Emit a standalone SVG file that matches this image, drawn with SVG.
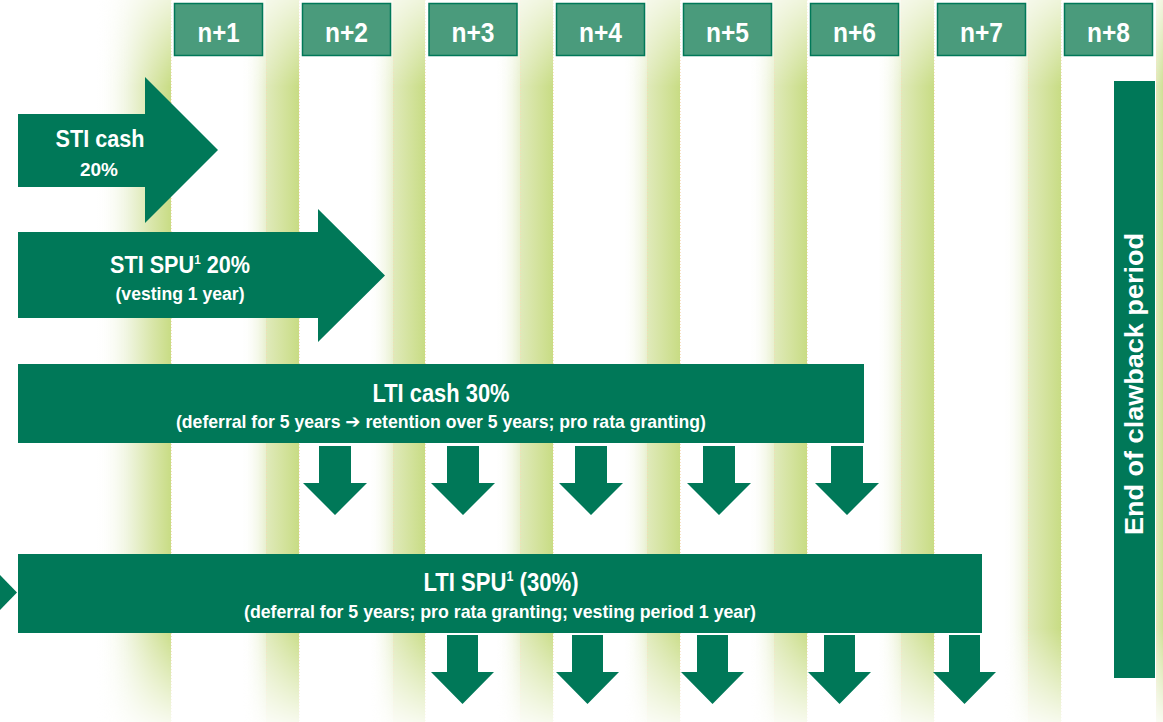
<svg xmlns="http://www.w3.org/2000/svg" width="1163" height="722" viewBox="0 0 1163 722">
  <defs>
    <style>
      .g { fill: #007858; }
      .hdr { fill: #4a9b7c; stroke: #007858; stroke-width: 1.5; }
      .t { font-family: "Liberation Sans", Arial, sans-serif; font-weight: bold; fill: #ffffff; text-anchor: middle; }
      .h { font-size: 27px; }
      .band { fill: url(#bandGrad); }
      .fade { fill: url(#fadeGrad); }
      .edge { stroke: #f6d8b4; stroke-width: 1; stroke-dasharray: 1 2; fill: none; opacity: 0.8; }
    </style>
    <linearGradient id="bandGrad" x1="0" y1="0" x2="1" y2="0">
      <stop offset="0" stop-color="#e0eabb"/>
      <stop offset="0.5" stop-color="#d4e39f"/>
      <stop offset="1" stop-color="#c8dc84"/>
    </linearGradient>
    <linearGradient id="fadeGrad" x1="0" y1="0" x2="1" y2="0">
      <stop offset="0" stop-color="#ffffff" stop-opacity="0"/>
      <stop offset="1" stop-color="#e8f0cf"/>
    </linearGradient>
    <linearGradient id="firstGrad" x1="0" y1="0" x2="1" y2="0">
      <stop offset="0" stop-color="#ffffff" stop-opacity="0"/>
      <stop offset="0.45" stop-color="#eef4dc"/>
      <stop offset="0.75" stop-color="#d9e6aa"/>
      <stop offset="1" stop-color="#c8dc84"/>
    </linearGradient>
    <linearGradient id="vfade" gradientUnits="userSpaceOnUse" x1="0" y1="0" x2="0" y2="722">
      <stop offset="0" stop-color="#fff" stop-opacity="0.3"/>
      <stop offset="0.12" stop-color="#fff" stop-opacity="1"/>
      <stop offset="0.87" stop-color="#fff" stop-opacity="1"/>
      <stop offset="1" stop-color="#fff" stop-opacity="0.15"/>
    </linearGradient>
    <mask id="vmask" maskUnits="userSpaceOnUse" x="0" y="0" width="1163" height="722">
      <rect x="0" y="0" width="1163" height="722" fill="url(#vfade)"/>
    </mask>
  </defs>

  <rect x="0" y="0" width="1163" height="722" fill="#ffffff"/>

  <!-- background stripes -->
  <g id="background" mask="url(#vmask)">
    <rect x="95" y="0" width="76" height="722" fill="url(#firstGrad)"/>
    <rect class="fade" x="241" y="0" width="25" height="722"/>
    <rect class="band" x="266" y="0" width="33" height="722"/>
    <rect class="fade" x="368" y="0" width="25" height="722"/>
    <rect class="band" x="393" y="0" width="32" height="722"/>
    <rect class="fade" x="495" y="0" width="25" height="722"/>
    <rect class="band" x="520" y="0" width="33" height="722"/>
    <rect class="fade" x="622" y="0" width="25" height="722"/>
    <rect class="band" x="647" y="0" width="33" height="722"/>
    <rect class="fade" x="749" y="0" width="25" height="722"/>
    <rect class="band" x="774" y="0" width="33" height="722"/>
    <rect class="fade" x="876" y="0" width="25" height="722"/>
    <rect class="band" x="901" y="0" width="33" height="722"/>
    <rect class="fade" x="1003" y="0" width="25" height="722"/>
    <rect class="band" x="1028" y="0" width="33" height="722"/>
    <rect class="band" x="1156" y="0" width="10" height="722"/>
    <path class="edge" d="M171.5 0V722M266.5 0V722M299.5 0V722M393.5 0V722M425.5 0V722M520.5 0V722M553.5 0V722M647.5 0V722M680.5 0V722M774.5 0V722M807.5 0V722M901.5 0V722M934.5 0V722M1028.5 0V722M1061.5 0V722M1156.5 0V722"/>
  </g>

  <!-- year headers -->
  <g id="year-n1"><rect class="hdr" x="174.5" y="3.5" width="88" height="52"/><text class="t h" x="218.5" y="42" textLength="42" lengthAdjust="spacingAndGlyphs">n+1</text></g>
  <g id="year-n2"><rect class="hdr" x="302.5" y="3.5" width="88" height="52"/><text class="t h" x="346.5" y="42" textLength="43" lengthAdjust="spacingAndGlyphs">n+2</text></g>
  <g id="year-n3"><rect class="hdr" x="429" y="3.5" width="88" height="52"/><text class="t h" x="473" y="42" textLength="43" lengthAdjust="spacingAndGlyphs">n+3</text></g>
  <g id="year-n4"><rect class="hdr" x="556.5" y="3.5" width="88" height="52"/><text class="t h" x="600.5" y="42" textLength="43" lengthAdjust="spacingAndGlyphs">n+4</text></g>
  <g id="year-n5"><rect class="hdr" x="683.5" y="3.5" width="88" height="52"/><text class="t h" x="727.5" y="42" textLength="43" lengthAdjust="spacingAndGlyphs">n+5</text></g>
  <g id="year-n6"><rect class="hdr" x="810.5" y="3.5" width="88" height="52"/><text class="t h" x="854.5" y="42" textLength="43" lengthAdjust="spacingAndGlyphs">n+6</text></g>
  <g id="year-n7"><rect class="hdr" x="937.5" y="3.5" width="88" height="52"/><text class="t h" x="981.5" y="42" textLength="43" lengthAdjust="spacingAndGlyphs">n+7</text></g>
  <g id="year-n8"><rect class="hdr" x="1064.5" y="3.5" width="88" height="52"/><text class="t h" x="1108.5" y="42" textLength="43" lengthAdjust="spacingAndGlyphs">n+8</text></g>

  <!-- STI cash -->
  <g id="sti-cash">
    <polygon class="g" points="18,114 145,114 145,77 218,150 145,223 145,187 18,187"/>
    <text class="t" x="100" y="147" font-size="24" textLength="89" lengthAdjust="spacingAndGlyphs">STI cash</text>
    <text class="t" x="99" y="176" font-size="19" textLength="38" lengthAdjust="spacingAndGlyphs">20%</text>
  </g>

  <!-- STI SPU -->
  <g id="sti-spu">
    <polygon class="g" points="18,232 318,232 318,209 385,275.5 318,342 318,318 18,318"/>
    <text class="t" x="180" y="273" font-size="24" textLength="140" lengthAdjust="spacingAndGlyphs">STI SPU<tspan font-size="13" baseline-shift="9">1</tspan> 20%</text>
    <text class="t" x="180" y="300" font-size="18" textLength="129" lengthAdjust="spacingAndGlyphs">(vesting 1 year)</text>
  </g>

  <!-- LTI cash -->
  <g id="lti-cash">
    <rect class="g" x="18" y="364" width="846" height="79"/>
    <text class="t" x="441" y="402" font-size="25" textLength="137" lengthAdjust="spacingAndGlyphs">LTI cash 30%</text>
    <text class="t" x="441" y="428" font-size="18.5" textLength="530" lengthAdjust="spacingAndGlyphs">(deferral for 5 years <tspan font-family="'DejaVu Sans', sans-serif" font-size="19">➔</tspan> retention over 5 years; pro rata granting)</text>
  </g>

  <!-- LTI SPU -->
  <g id="lti-spu">
    <polygon class="g" points="0,575 17,592.5 0,610"/>
    <rect class="g" x="18" y="554" width="964" height="79"/>
    <text class="t" x="501" y="591" font-size="25" textLength="155" lengthAdjust="spacingAndGlyphs">LTI SPU<tspan font-size="14" baseline-shift="10">1</tspan> (30%)</text>
    <text class="t" x="500" y="618" font-size="18.5" textLength="512" lengthAdjust="spacingAndGlyphs">(deferral for 5 years; pro rata granting; vesting period 1 year)</text>
  </g>

  <!-- End of clawback period -->
  <g id="clawback">
    <rect class="g" x="1114" y="81" width="41" height="597"/>
    <text class="t" transform="translate(1143,384) rotate(-90)" x="0" y="0" font-size="26" textLength="302" lengthAdjust="spacingAndGlyphs">End of clawback period</text>
  </g>

  <!-- payout arrows -->
  <g id="connectors">
    <polygon class="g" points="319,446 351,446 351,483 367,483 335,515 303,483 319,483"/>
    <polygon class="g" points="447,446 479,446 479,483 495,483 463,515 431,483 447,483"/>
    <polygon class="g" points="575,446 607,446 607,483 623,483 591,515 559,483 575,483"/>
    <polygon class="g" points="703,446 735,446 735,483 751,483 719,515 687,483 703,483"/>
    <polygon class="g" points="831,446 863,446 863,483 879,483 847,515 815,483 831,483"/>

    <polygon class="g" points="447,635 478,635 478,672 494,672 462.5,704 431,672 447,672"/>
    <polygon class="g" points="572,635 603,635 603,672 619,672 587.5,704 556,672 572,672"/>
    <polygon class="g" points="697,635 728,635 728,672 744,672 712.5,704 681,672 697,672"/>
    <polygon class="g" points="824,635 855,635 855,672 871,672 839.5,704 808,672 824,672"/>
    <polygon class="g" points="949,635 980,635 980,672 996,672 964.5,704 933,672 949,672"/>
  </g>
</svg>
